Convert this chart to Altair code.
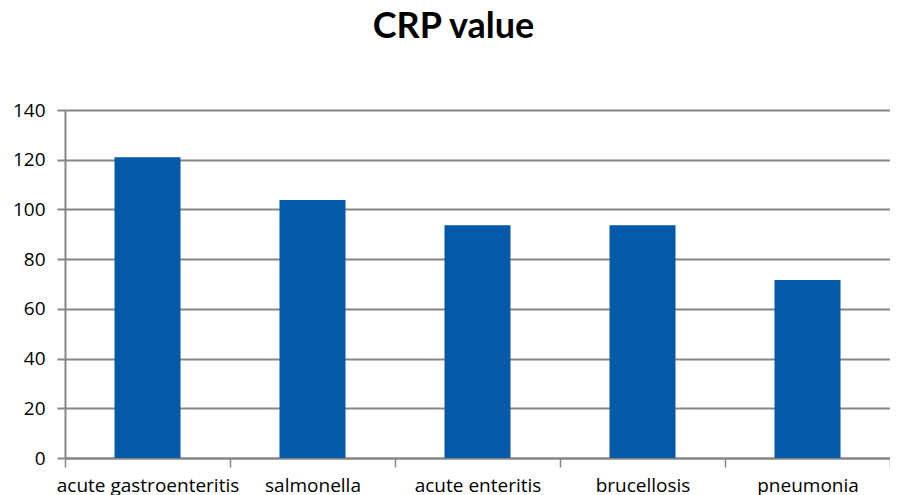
import altair as alt
import pandas as pd

categories = ["acute gastroenteritis", "salmonella", "acute enteritis", "brucellosis", "pneumonia"]
crp_values = [121, 103.8, 93.6, 93.6, 71.6]
y_ticks = [0, 20, 40, 60, 80, 100, 120, 140]

df = pd.DataFrame({"disease": categories, "crp": crp_values})

chart = (
    alt.Chart(df)
    .mark_bar(color="#0559A9", width=alt.RelativeBandSize(0.4))
    .encode(
        x=alt.X(
            "disease:N",
            sort=categories,
            title=None,
            scale=alt.Scale(paddingInner=0, paddingOuter=0),
            axis=alt.Axis(
                labelAngle=0,
                tickBand="extent",
                ticks=True,
                tickSize=9,
                tickColor="#868686",
                tickWidth=1.5,
                domainColor="#868686",
                domainWidth=2,
                labelFont="Open Sans",
                labelFontSize=19,
                labelColor="#000000",
                labelPadding=9,
                labelLimit=0,
                labelOverlap=False,
                grid=False,
            ),
        ),
        y=alt.Y(
            "crp:Q",
            title=None,
            scale=alt.Scale(domain=[0, 140], nice=False),
            axis=alt.Axis(
                values=y_ticks,
                grid=True,
                gridColor="#868686",
                gridWidth=2,
                domainColor="#868686",
                domainWidth=2,
                tickColor="#868686",
                tickWidth=2,
                tickSize=8,
                labelFont="Open Sans",
                labelFontSize=19,
                labelColor="#000000",
                labelPadding=12,
            ),
        ),
    )
    .properties(
        width=825,
        height=348,
        autosize=alt.AutoSizeParams(type="none"),
        padding={"left": 57, "top": 102, "right": 0, "bottom": 37},
        title=alt.TitleParams(
            "CRP value",
            font="Lato",
            fontSize=36,
            fontWeight="bold",
            color="#000000",
            anchor="middle",
            offset=55,
            dx=-24,
        ),
    )
    .configure_view(stroke=None)
)

chart.save("out.html", embed_options={"renderer": "svg", "actions": False})
